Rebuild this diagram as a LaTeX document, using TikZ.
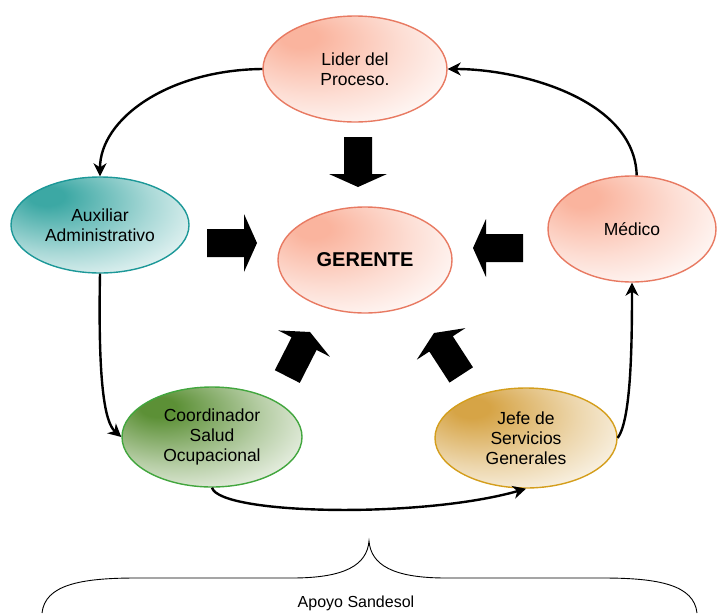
\documentclass[tikz,border=0pt]{standalone}
\usepackage{fontspec}
\setmainfont{Liberation Sans}
\usetikzlibrary{shapes.geometric,arrows.meta}
\definecolor{salD}{RGB}{250,180,158}
\definecolor{salB}{RGB}{232,122,98}
\definecolor{tealD}{RGB}{60,168,164}
\definecolor{tealB}{RGB}{28,152,152}
\definecolor{grnD}{RGB}{92,144,54}
\definecolor{grnB}{RGB}{66,166,62}
\definecolor{gldD}{RGB}{214,164,70}
\definecolor{gldB}{RGB}{212,158,28}
\pgfdeclareradialshading{salsh}{\pgfpoint{-16bp}{16bp}}{color(0bp)=(salD); color(5bp)=(salD); color(24bp)=(salD!45!white); color(42bp)=(white); color(80bp)=(white)}
\pgfdeclareradialshading{tealsh}{\pgfpoint{-16bp}{16bp}}{color(0bp)=(tealD); color(5bp)=(tealD); color(25bp)=(tealD!45!white); color(44bp)=(white); color(80bp)=(white)}
\pgfdeclareradialshading{grnsh}{\pgfpoint{-16bp}{16bp}}{color(0bp)=(grnD); color(5bp)=(grnD); color(25bp)=(grnD!45!white); color(44bp)=(white); color(80bp)=(white)}
\pgfdeclareradialshading{gldsh}{\pgfpoint{-16bp}{16bp}}{color(0bp)=(gldD); color(5bp)=(gldD); color(25bp)=(gldD!45!white); color(44bp)=(white); color(80bp)=(white)}
\tikzset{
  role/.style={ellipse, inner sep=0pt, align=center, line width=1.4pt,
    font=\fontsize{17.5}{20}\selectfont},
  conn/.style={line width=2.4pt, -{Stealth[length=13pt,width=13pt,inset=4pt]}},
  barrow/.pic={\fill[black] (0,0) -- (-13,29) -- (-13,14) -- (-50,14) -- (-50,-14) -- (-13,-14) -- (-13,-29) -- cycle;}
}
\begin{document}
\begin{tikzpicture}[x=1pt,y=-1pt]
\useasboundingbox (0,0) rectangle (717,613);
% nodes
\node[role, draw=salB, shading=salsh, minimum width=184pt, minimum height=106pt] (lider) at (355,69) {Lider del\\Proceso.};
\node[role, draw=tealB, shading=tealsh, minimum width=178pt, minimum height=96pt] (aux) at (100,225) {Auxiliar\\Administrativo};
\node[role, draw=salB, shading=salsh, minimum width=168pt, minimum height=106pt] (med) at (632,229) {Médico};
\node[role, draw=grnB, shading=grnsh, minimum width=180pt, minimum height=100pt] (coord) at (212,437) {Coordinador\\Salud\\Ocupacional};
\node[role, draw=gldB, shading=gldsh, minimum width=182pt, minimum height=100pt] (jefe) at (526,438) {Jefe de\\Servicios\\Generales};
\node[role, draw=salB, shading=salsh, minimum width=174pt, minimum height=106pt, font=\fontsize{20}{22}\selectfont\bfseries] (ger) at (365,260) {GERENTE};
% block arrows
\pic[rotate=-90] at (358,187) {barrow};
\pic[rotate=0] at (257,243) {barrow};
\pic[rotate=180] at (473,248) {barrow};
\pic[rotate=63] at (310,332) {barrow};
\pic[rotate=123] at (434,333) {barrow};
% connectors
\draw[conn] (lider.west) .. controls +(-95,1) and +(0,-57) .. (aux.north);
\draw[conn] (aux.south) .. controls +(-2,107) and +(-17,-15) .. (coord.west);
\draw[conn] (coord.south) .. controls +(8,27) and +(-105,30) .. (jefe.south);
\draw[conn] (jefe.east) .. controls +(13,-18) and +(0,68) .. (med.south);
\draw[conn] (med.85) .. controls +(-2,-76) and +(73,0) .. (lider.east);
% brace
\draw[line width=0.9pt] (42,613) .. controls (45,585) and (80,578) .. (136,578)
  -- (292,578) .. controls (345,578) and (367,565) .. (369,541)
  .. controls (371,565) and (393,578) .. (446,578)
  -- (603,578) .. controls (659,578) and (694,585) .. (697,613);
\node[font=\fontsize{16}{18}\selectfont] (apoyo) at (356,603) {Apoyo Sandesol};
\end{tikzpicture}
\end{document}
